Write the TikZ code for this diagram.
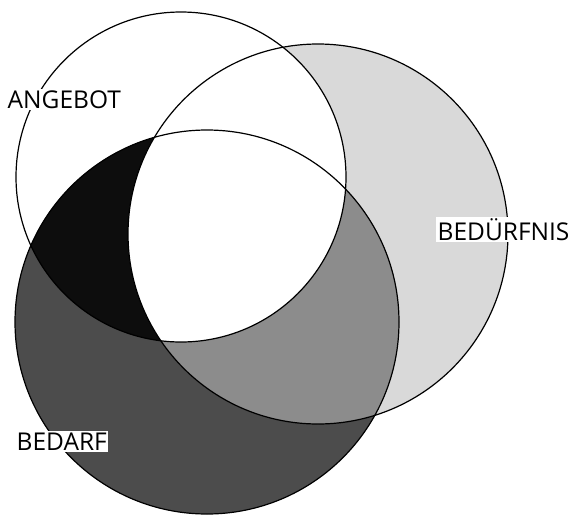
\documentclass[tikz,border=0pt]{standalone}
\usepackage{fontspec}
\setmainfont{Open Sans}
\begin{document}
\begin{tikzpicture}[x=1pt,y=-1pt,
  lbl/.style={fill=white,inner sep=1.5pt,anchor=base west,font=\fontsize{24.5}{24.5}\selectfont},
  ring/.style={draw=black,line width=1.2pt}]
\useasboundingbox (0,0) rectangle (568,515);
\def\angebot{(181,177) circle (165)}
\def\beduerfnis{(318,234) circle (190)}
\def\bedarf{(207,322) circle (192)}
\fill[black!15] \beduerfnis;
\fill[black!70] \bedarf;
\begin{scope}
  \clip \bedarf;
  \fill[black!45] \beduerfnis;
  \fill[black!95] \angebot;
\end{scope}
\begin{scope}
  \clip \beduerfnis;
  \fill[white] \angebot;
\end{scope}
\draw[ring] \angebot;
\draw[ring] \beduerfnis;
\draw[ring] \bedarf;
\node[lbl] (angebot) at (6,108) {ANGEBOT};
\node[lbl] (beduerfnis) at (436,240) {BEDÜRFNIS};
\node[lbl] (bedarf) at (15,450) {BEDARF};
\end{tikzpicture}
\end{document}
